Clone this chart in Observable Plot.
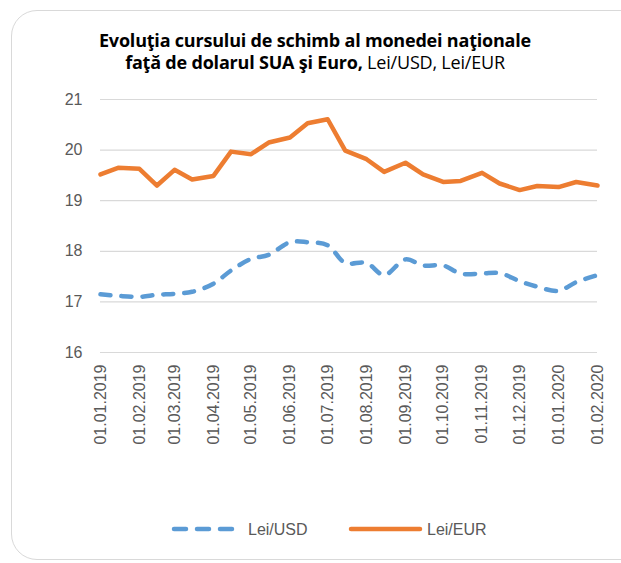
<!DOCTYPE html>
<html>
<head>
<meta charset="utf-8">
<script src="https://cdn.jsdelivr.net/npm/d3@7"></script>
<script src="https://cdn.jsdelivr.net/npm/@observablehq/plot@0.6"></script>
<style>
  html, body { margin: 0; padding: 0; background: #fff; }
  #wrap { position: relative; width: 621px; height: 563px; overflow: hidden; font-family: "Liberation Sans", Arial, sans-serif; }
  #frame { position: absolute; left: 11px; top: 10px; width: 640px; height: 550px; border: 1.5px solid #d9d9d9; border-radius: 26px; box-sizing: border-box; }
  #title { position: absolute; left: 0; top: 29px; width: 630px; text-align: center; font-family: "Open Sans", Lato, sans-serif; font-size: 18px; line-height: 22px; color: #000; letter-spacing: -0.2px; }
  #title b { font-weight: 700; }
  #chart { position: absolute; left: 0; top: 0; }
  #legend { position: absolute; left: 0; top: 515px; width: 621px; height: 28px; }
</style>
</head>
<body>
<div id="wrap">
  <div id="frame"></div>
  <div id="chart"></div>
  <div id="title"><b>Evoluţia cursului de schimb al monedei naţionale</b><br><b>faţă de dolarul SUA şi Euro,</b> Lei/USD, Lei/EUR</div>
  <svg id="legend" width="621" height="28"></svg>
</div>
<script>
const dates = [
  "2019-01-01","2019-01-15","2019-02-01","2019-02-15","2019-03-01","2019-03-15",
  "2019-04-01","2019-04-15","2019-05-01","2019-05-15","2019-06-01","2019-06-15",
  "2019-07-01","2019-07-15","2019-08-01","2019-08-15","2019-09-01","2019-09-15",
  "2019-10-01","2019-10-15","2019-11-01","2019-11-15","2019-12-01","2019-12-15",
  "2020-01-01","2020-01-15","2020-02-01"
];
const leiUSD = [
  17.15, 17.12, 17.10, 17.14, 17.16, 17.20, 17.36, 17.62, 17.85, 17.93, 18.18, 18.18,
  18.12, 17.77, 17.77, 17.53, 17.84, 17.72, 17.72, 17.56, 17.56, 17.57, 17.41, 17.30,
  17.22, 17.39, 17.53
];
const leiEUR = [
  19.52, 19.65, 19.63, 19.30, 19.61, 19.42, 19.49, 19.97, 19.92, 20.15, 20.25, 20.53,
  20.61, 19.99, 19.82, 19.57, 19.75, 19.52, 19.37, 19.39, 19.55, 19.34, 19.21, 19.29,
  19.27, 19.37, 19.30
];
const tickDates = [
  "2019-01-01","2019-02-01","2019-03-01","2019-04-01","2019-05-01","2019-06-01",
  "2019-07-01","2019-08-01","2019-09-01","2019-10-01","2019-11-01","2019-12-01",
  "2020-01-01","2020-02-01"
];
const yTicks = [16, 17, 18, 19, 20, 21];
const seriesNames = ["Lei/USD", "Lei/EUR"];
const colors = ["#5B9BD5", "#ED7D31"];

const parse = d3.utcParse("%Y-%m-%d");
const fmt = d3.utcFormat("%d.%m.%Y");
const usdData = dates.map((d, i) => ({date: parse(d), value: leiUSD[i]}));
const eurData = dates.map((d, i) => ({date: parse(d), value: leiEUR[i]}));
const ticks = tickDates.map(parse);

const plot = Plot.plot({
  width: 621,
  height: 470,
  marginLeft: 100,
  marginRight: 24,
  marginTop: 99,
  marginBottom: 118,
  style: { background: "transparent", fontFamily: "'Liberation Sans', Arial, sans-serif", fontSize: "16px", color: "#595959" },
  x: { type: "utc", domain: [ticks[0], ticks[ticks.length - 1]] },
  y: { domain: [16, 21] },
  marks: [
    Plot.gridY(yTicks, { stroke: "#d9d9d9", strokeOpacity: 1, strokeWidth: 1.2 }),
    Plot.axisY(yTicks, { tickSize: 0, tickPadding: 18, tickFormat: d => String(d), fill: "#595959", fontSize: 16, label: null }),
    Plot.axisX(ticks, { tickSize: 0, tickPadding: 12, tickRotate: -90, tickFormat: fmt, fill: "#595959", fontSize: 16, label: null }),
    Plot.line(usdData, { x: "date", y: "value", stroke: colors[0], strokeWidth: 4.5, strokeDasharray: "10,11", strokeLinecap: "round", strokeLinejoin: "round", curve: "catmull-rom" }),
    Plot.line(eurData, { x: "date", y: "value", stroke: colors[1], strokeWidth: 4.5, strokeLinecap: "round", strokeLinejoin: "round" })
  ]
});
document.getElementById("chart").appendChild(plot);

// legend
const lg = d3.select("#legend");
const cy = 14;
lg.append("line").attr("x1", 174).attr("x2", 236).attr("y1", cy).attr("y2", cy)
  .attr("stroke", colors[0]).attr("stroke-width", 4.5).attr("stroke-linecap", "round").attr("stroke-dasharray", "12,11");
lg.append("text").attr("x", 248).attr("y", cy).attr("dy", "0.35em").attr("fill", "#595959")
  .style("font-family", "'Liberation Sans', Arial, sans-serif").style("font-size", "16px").text(seriesNames[0]);
lg.append("line").attr("x1", 351).attr("x2", 420).attr("y1", cy).attr("y2", cy)
  .attr("stroke", colors[1]).attr("stroke-width", 4.5).attr("stroke-linecap", "round");
lg.append("text").attr("x", 427).attr("y", cy).attr("dy", "0.35em").attr("fill", "#595959")
  .style("font-family", "'Liberation Sans', Arial, sans-serif").style("font-size", "16px").text(seriesNames[1]);
</script>
</body>
</html>
